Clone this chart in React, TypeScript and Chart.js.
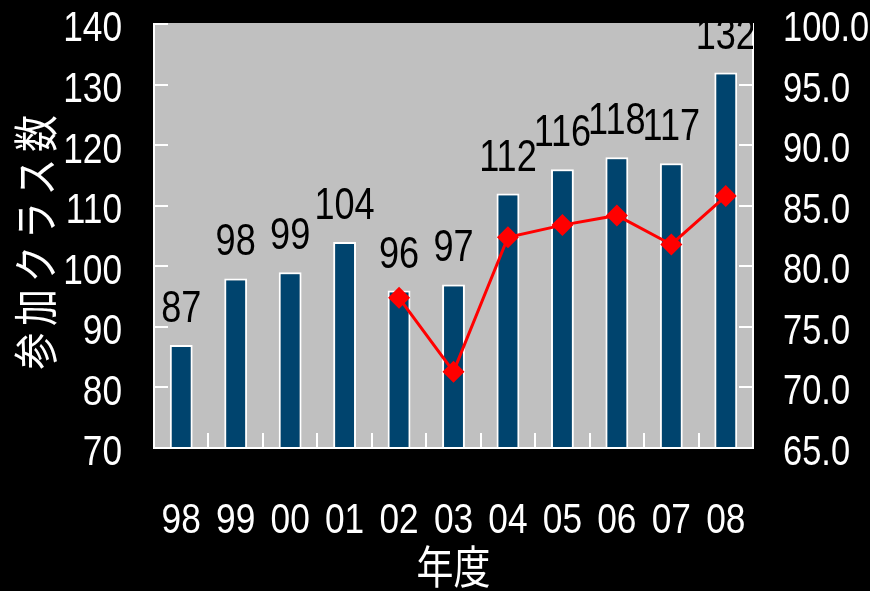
import { useEffect, useRef } from "react";
import { Chart, registerables } from "chart.js";

Chart.register(...registerables);

// Fiscal years (two-digit) along the bottom
const years = ["98", "99", "00", "01", "02", "03", "04", "05", "06", "07", "08"];
// Number of participating classes (left axis, bars)
const classCounts = [87, 98, 99, 104, 96, 97, 112, 116, 118, 117, 132];
// Rate series on the right axis (line), recorded from 02 onwards
const rateValues: (number | null)[] = [null, null, null, null, 77.4, 71.3, 82.4, 83.4, 84.2, 81.8, 85.8];

const leftMin = 70;
const leftMax = 140;
const leftStep = 10;
const rightMin = 65;
const rightMax = 100;
const rightStep = 5;

const yTitle = "参加クラス数";
const xTitle = "年度";

const SANS = '"Liberation Sans", Arial, sans-serif';
const CJK = '"Noto Sans CJK JP", sans-serif';
// horizontal squeeze applied to every label (narrow lettering)
const SQUEEZE = 0.82;

const PLOT_BG = "#c0c0c0";
const BAR_FILL = "#00446e";
const LINE_RED = "#ff0000";

function squeezedText(
  ctx: CanvasRenderingContext2D,
  text: string,
  x: number,
  y: number,
  font: string,
  align: CanvasTextAlign,
  baseline: CanvasTextBaseline,
  rotation = 0,
  spacing = 0
) {
  ctx.save();
  ctx.translate(x, y);
  if (rotation) ctx.rotate(rotation);
  ctx.scale(SQUEEZE, 1);
  ctx.font = font;
  ctx.textAlign = align;
  ctx.textBaseline = baseline;
  if (spacing) (ctx as any).letterSpacing = `${spacing}px`;
  ctx.fillText(text, 0, 0);
  ctx.restore();
}

// Grey plot area, white frame, inward tick marks and all lettering
const framePlugin = {
  id: "frame",
  beforeDraw(chart: any) {
    const { ctx, chartArea: a } = chart;
    ctx.save();
    ctx.fillStyle = "#000";
    ctx.fillRect(0, 0, chart.width, chart.height);
    ctx.fillStyle = PLOT_BG;
    ctx.fillRect(a.left, a.top - 1, a.right - a.left, a.bottom - a.top + 1);
    ctx.restore();
  },
  afterDatasetsDraw(chart: any) {
    const { ctx, chartArea: a, scales } = chart;
    const x = scales.x;
    const yL = scales.y;
    const yR = scales.y1;
    ctx.save();
    ctx.strokeStyle = "#ffffff";
    ctx.lineWidth = 2;
    ctx.beginPath();
    // left tick marks pointing into the plot
    for (let v = leftMin + leftStep; v <= leftMax; v += leftStep) {
      const py = Math.round(yL.getPixelForValue(v));
      ctx.moveTo(a.left, py);
      ctx.lineTo(a.left + 14, py);
    }
    // right tick marks pointing into the plot
    for (let v = rightMin + rightStep; v < rightMax; v += rightStep) {
      const py = Math.round(yR.getPixelForValue(v));
      ctx.moveTo(a.right, py);
      ctx.lineTo(a.right - 14, py);
    }
    // category boundary ticks rising from the bottom
    for (let i = 0; i < years.length - 1; i++) {
      const px = Math.round((x.getPixelForValue(i) + x.getPixelForValue(i + 1)) / 2);
      ctx.moveTo(px, a.bottom);
      ctx.lineTo(px, a.bottom - 15);
    }
    ctx.stroke();

    // frame: left, bottom, right
    ctx.beginPath();
    ctx.moveTo(a.left, a.top - 1);
    ctx.lineTo(a.left, a.bottom);
    ctx.lineTo(a.right, a.bottom);
    ctx.lineTo(a.right, a.top - 1);
    ctx.stroke();
    ctx.restore();

    // value labels above each bar, clipped to the plot area
    ctx.save();
    ctx.beginPath();
    ctx.rect(a.left, a.top - 1, a.right - a.left, a.bottom - a.top + 1);
    ctx.clip();
    ctx.fillStyle = "#000";
    const meta = chart.getDatasetMeta(1);
    meta.data.forEach((bar: any, i: number) => {
      squeezedText(ctx, String(classCounts[i]), bar.x, bar.y - 23, `44px ${SANS}`, "center", "alphabetic");
    });
    ctx.restore();
  },
  afterDraw(chart: any) {
    const { ctx, chartArea: a, scales } = chart;
    const x = scales.x;
    const yL = scales.y;
    const yR = scales.y1;
    ctx.save();
    ctx.fillStyle = "#ffffff";

    // left axis numbers
    for (let v = leftMin; v <= leftMax; v += leftStep) {
      const py = yL.getPixelForValue(v) + 2 + 0.358 * 43;
      squeezedText(ctx, String(v), a.left - 32, py, `43px ${SANS}`, "right", "alphabetic");
    }
    // right axis numbers
    for (let v = rightMin; v <= rightMax; v += rightStep) {
      const py = yR.getPixelForValue(v) + 2 + 0.358 * 42;
      squeezedText(ctx, v.toFixed(1), a.right + 30, py, `42px ${SANS}`, "left", "alphabetic");
    }
    // year labels
    years.forEach((label, i) => {
      squeezedText(ctx, label, x.getPixelForValue(i), 533, `43px ${SANS}`, "center", "alphabetic");
    });

    // axis titles
    squeezedText(ctx, xTitle, (a.left + a.right) / 2, 567, `45px ${CJK}`, "center", "middle");
    squeezedText(ctx, yTitle, 36, (a.top + a.bottom) / 2 + 3, `45px ${CJK}`, "center", "middle", -Math.PI / 2, 8);
    ctx.restore();
  },
};

export default function App() {
  const canvasRef = useRef<HTMLCanvasElement | null>(null);

  useEffect(() => {
    const canvas = canvasRef.current;
    if (!canvas) return;
    const chart = new Chart(canvas, {
      type: "bar",
      data: {
        labels: years,
        datasets: [
          {
            type: "line",
            label: "rate",
            data: rateValues,
            yAxisID: "y1",
            borderColor: LINE_RED,
            backgroundColor: LINE_RED,
            borderWidth: 3,
            pointStyle: "rectRot",
            pointRadius: 11,
            pointBorderWidth: 0,
            pointBackgroundColor: LINE_RED,
            tension: 0,
            order: 0,
          } as any,
          {
            type: "bar",
            label: yTitle,
            data: classCounts,
            yAxisID: "y",
            backgroundColor: BAR_FILL,
            borderColor: "#ffffff",
            borderWidth: 2,
            borderSkipped: false,
            categoryPercentage: 1,
            barPercentage: 0.42,
            order: 1,
          } as any,
        ],
      },
      plugins: [framePlugin],
      options: {
        responsive: false,
        animation: false,
        devicePixelRatio: 1,
        layout: { padding: { top: 24, left: 0, right: 0, bottom: 0 } },
        plugins: {
          legend: { display: false },
          tooltip: { enabled: false },
        },
        scales: {
          x: {
            grid: { display: false, drawTicks: false },
            border: { display: false },
            ticks: { display: false },
            afterFit(s: any) {
              s.height = 143;
              s.paddingLeft = 0;
              s.paddingRight = 0;
            },
          },
          y: {
            position: "left",
            min: leftMin,
            max: leftMax,
            grid: { display: false, drawTicks: false },
            border: { display: false },
            ticks: { display: false, stepSize: leftStep },
            afterFit(s: any) {
              s.width = 154;
              s.paddingTop = 0;
              s.paddingBottom = 0;
            },
          },
          y1: {
            position: "right",
            min: rightMin,
            max: rightMax,
            grid: { display: false, drawTicks: false },
            border: { display: false },
            ticks: { display: false, stepSize: rightStep },
            afterFit(s: any) {
              s.width = 117;
              s.paddingTop = 0;
              s.paddingBottom = 0;
            },
          },
        },
      },
    });
    return () => chart.destroy();
  }, []);

  return (
    <div
      style={{
        position: "fixed",
        left: 0,
        top: 0,
        width: 870,
        height: 591,
        background: "#000",
      }}
    >
      <canvas ref={canvasRef} width={870} height={591} style={{ width: 870, height: 591, display: "block" }} />
    </div>
  );
}
